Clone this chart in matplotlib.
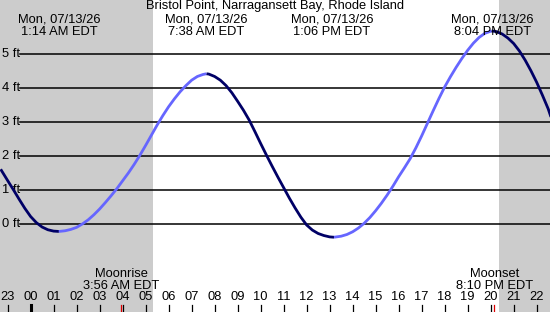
import matplotlib
matplotlib.use('Agg')
import matplotlib.pyplot as plt

plt.rcParams['font.family'] = ['Liberation Sans', 'DejaVu Sans']

# tide height (ft), hours since midnight
hours = [-1.3, -1.0, -0.75, -0.5, -0.25, 0.0, 0.25, 0.5, 0.75, 1.0, 1.23,
         1.5, 1.75, 2.0, 2.25, 2.5, 2.75, 3.0, 3.25, 3.5, 3.75, 4.0, 4.25,
         4.5, 4.75, 5.0, 5.25, 5.5, 5.75, 6.0, 6.25, 6.5, 6.75, 7.0, 7.25,
         7.5, 7.65, 7.75, 8.0, 8.25, 8.5, 8.75, 9.0, 9.25, 9.5, 9.75, 10.0,
         10.25, 10.5, 10.75, 11.0, 11.25, 11.5, 11.75, 12.0, 12.25, 12.5,
         12.75, 13.0, 13.19, 13.5, 13.75, 14.0, 14.25, 14.5, 14.75, 15.0,
         15.25, 15.5, 15.75, 16.0, 16.25, 16.5, 16.75, 17.0, 17.25, 17.5,
         17.75, 18.0, 18.25, 18.5, 18.75, 19.0, 19.25, 19.5, 19.75, 20.04,
         20.25, 20.5, 20.75, 21.0, 21.25, 21.5, 21.75, 22.0, 22.25, 22.5,
         22.62]
heights = [1.62, 1.29, 1.02, 0.74, 0.47, 0.23, 0.05, -0.08, -0.16, -0.20,
           -0.21, -0.19, -0.15, -0.09, 0.01, 0.13, 0.28, 0.45, 0.64, 0.84,
           1.05, 1.28, 1.51, 1.76, 2.03, 2.32, 2.62, 2.92, 3.20, 3.46, 3.69,
           3.90, 4.08, 4.24, 4.35, 4.41, 4.43, 4.42, 4.35, 4.24, 4.08, 3.87,
           3.62, 3.36, 3.07, 2.73, 2.38, 2.04, 1.71, 1.39, 1.08, 0.77, 0.48,
           0.21, -0.02, -0.17, -0.27, -0.33, -0.37, -0.38, -0.35, -0.30,
           -0.22, -0.11, 0.03, 0.20, 0.40, 0.62, 0.86, 1.12, 1.40, 1.66,
           1.93, 2.25, 2.60, 2.97, 3.34, 3.70, 4.04, 4.34, 4.62, 4.88, 5.12,
           5.33, 5.50, 5.62, 5.69, 5.67, 5.60, 5.48, 5.32, 5.10, 4.83, 4.52,
           4.18, 3.80, 3.40, 3.16]

hour_ticks = list(range(-1, 23))
hour_labels = ['23'] + ['%02d' % h for h in range(23)]
ft_levels = [0, 1, 2, 3, 4, 5]

extreme_times = [1.233, 7.633, 13.1, 20.067]
extreme_labels = ['1:14 AM EDT', '7:38 AM EDT', '1:06 PM EDT', '8:04 PM EDT']
date_label = 'Mon, 07/13/26'

sunrise = 5.33
sunset = 20.36
moonrise = 3.933
moonset = 20.167

W, H = 550, 312


def fy(px):
    # pixel row -> axes fraction
    return 1 - px / H


fig = plt.figure(figsize=(5.5, 3.12), dpi=100)
ax = fig.add_axes([0, 0, 1, 1])
ax.set_xlim(-1.33, 22.58)
ax.set_ylim(-2.58, 6.6)
ax.axis('off')

ax.axvspan(-3, sunrise, color='#cccccc', lw=0, zorder=0)
ax.axvspan(sunset, 25, color='#cccccc', lw=0, zorder=0)

fs = 9.3
for y in ft_levels:
    ax.axhline(y, xmin=20 / W, xmax=1, color='black', lw=1.1, zorder=1)
    ax.text(2 / W, y, '%d ft' % y, transform=ax.get_yaxis_transform(),
            ha='left', va='center', fontsize=fs)

# falling tide dark, rising tide light: one line per run
start = 0
for i in range(1, len(hours)):
    last = i == len(hours) - 1
    turn = (not last) and ((heights[i + 1] - heights[i]) *
                           (heights[i] - heights[i - 1]) < 0)
    if turn or last:
        c = '#000066' if heights[i] < heights[start] else '#6666ff'
        ax.plot(hours[start:i + 1], heights[start:i + 1], color=c, lw=2,
                solid_joinstyle='round', solid_capstyle='butt', zorder=3)
        start = i

xt = ax.get_xaxis_transform()
ax.text(0.5, fy(6), 'Bristol Point, Narragansett Bay, Rhode Island',
        transform=ax.transAxes, ha='center', va='center', fontsize=fs)
for t, lab in zip(extreme_times, extreme_labels):
    ax.text(t, fy(20), date_label, transform=xt, ha='center', va='center',
            fontsize=fs, zorder=4)
    ax.text(t, fy(32), lab, transform=xt, ha='center', va='center',
            fontsize=fs, zorder=4)

for h, lab in zip(hour_ticks, hour_labels):
    ax.axvline(h, ymin=0, ymax=7 / H, color='black',
               lw=2.2 if h == 0 else 0.9)
    ax.text(h, fy(297), lab, transform=xt, ha='center', va='center',
            fontsize=fs)

for t, name in [(moonrise, 'Moonrise'), (moonset, 'Moonset')]:
    ax.axvline(t, ymin=0, ymax=7 / H, color='#dd0000', lw=0.9)
    ax.text(t, fy(274), name, transform=xt, ha='center', va='center',
            fontsize=fs)
ax.text(moonrise, fy(286), '3:56 AM EDT', transform=xt, ha='center',
        va='center', fontsize=fs)
ax.text(moonset, fy(286), '8:10 PM EDT', transform=xt, ha='center',
        va='center', fontsize=fs)

fig.savefig('out.png', dpi=100)
